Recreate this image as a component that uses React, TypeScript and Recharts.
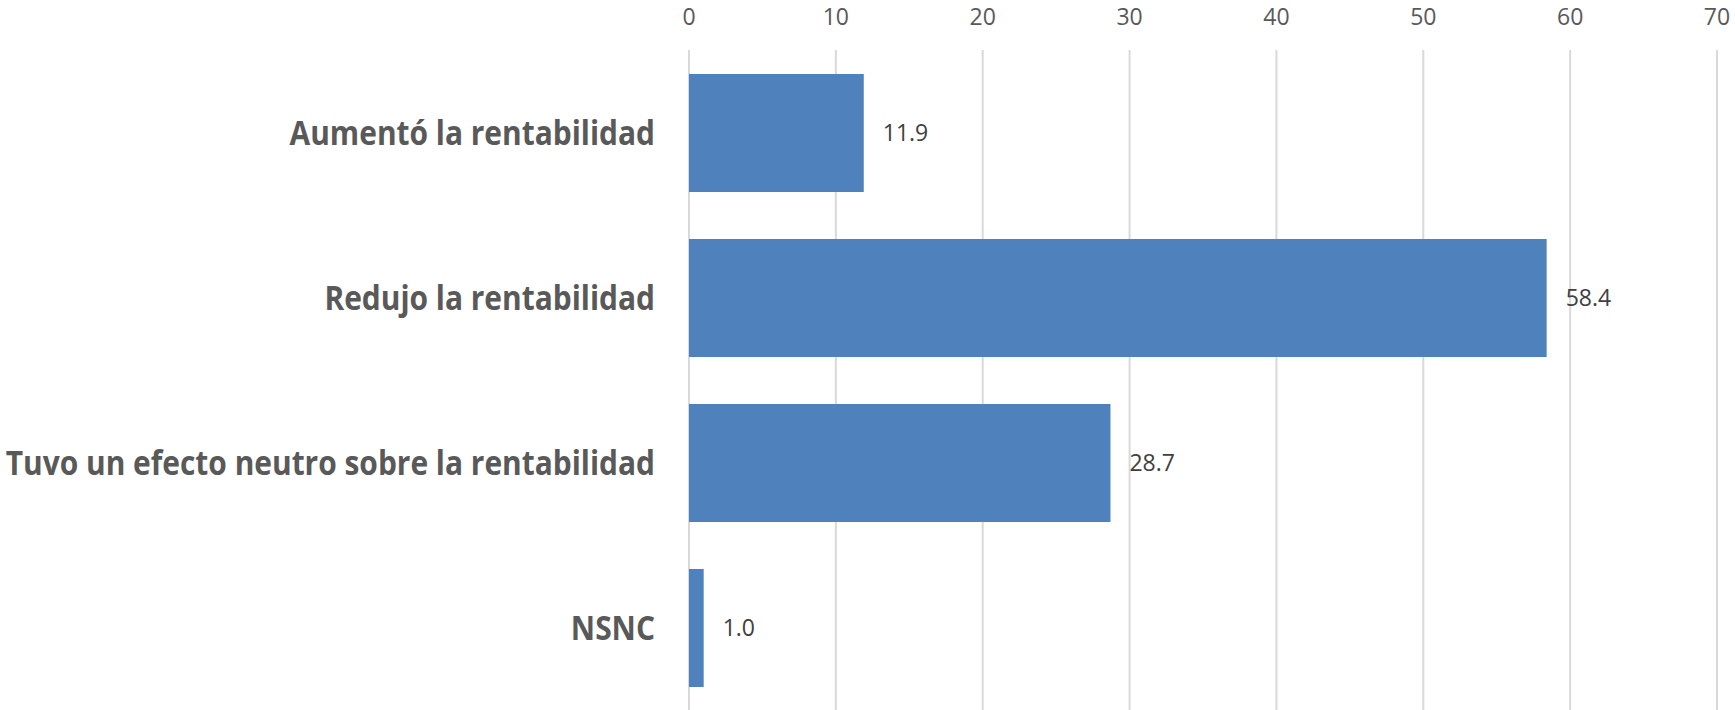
import { Bar, BarChart, CartesianGrid, LabelList, XAxis, YAxis } from "recharts";

const categories = [
  "Aumentó la rentabilidad",
  "Redujo la rentabilidad",
  "Tuvo un efecto neutro sobre la rentabilidad",
  "NSNC",
];
const values = [11.9, 58.4, 28.7, 1.0];
const xTicks = [0, 10, 20, 30, 40, 50, 60, 70];

const data = categories.map((name, i) => ({ name, value: values[i] }));

// Calibri-like narrow bold labels: Open Sans squeezed horizontally
const CategoryTick = (props: any) => {
  const { x, y, payload } = props;
  return (
    <g transform={`translate(${x},${y})`}>
      <text
        transform="scale(0.88,1)"
        textAnchor="end"
        dy="0.36em"
        fill="#595959"
        fontFamily="'Open Sans', sans-serif"
        fontWeight={700}
        fontSize={34}
      >
        {payload.value}
      </text>
    </g>
  );
};

export default function App() {
  return (
    <div style={{ position: "absolute", left: 0, top: 0, background: "#fff" }}>
      <BarChart
        width={1735}
        height={710}
        data={data}
        layout="vertical"
        margin={{ top: 0, right: 18, bottom: 0, left: 0 }}
      >
        <CartesianGrid horizontal={false} stroke="#d9d9d9" strokeWidth={2} />
        <XAxis
          type="number"
          orientation="top"
          domain={[0, 70]}
          ticks={xTicks}
          height={50}
          axisLine={false}
          tickLine={false}
          tickSize={0}
          tickMargin={25}
          tick={{ fill: "#595959", fontSize: 23, fontFamily: "'Open Sans', sans-serif" }}
        />
        <YAxis
          type="category"
          dataKey="name"
          width={689}
          axisLine={false}
          tickLine={false}
          tickSize={0}
          tickMargin={34}
          tick={<CategoryTick />}
        />
        <Bar dataKey="value" fill="#4f81bd" barSize={118} isAnimationActive={false}>
          <LabelList
            dataKey="value"
            position="right"
            offset={19}
            fill="#404040"
            fontSize={23}
            fontFamily="'Open Sans', sans-serif"
            formatter={(v: any) => Number(v).toFixed(1)}
          />
        </Bar>
      </BarChart>
    </div>
  );
}
